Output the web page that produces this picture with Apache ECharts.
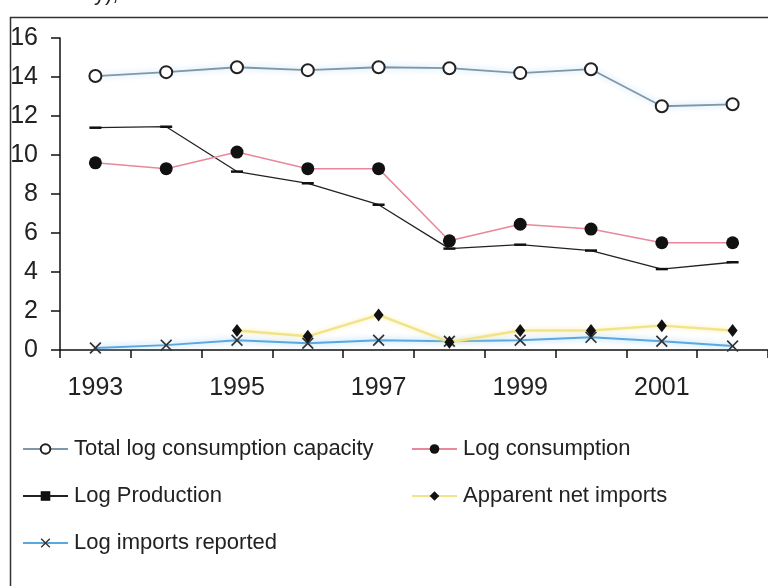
<!DOCTYPE html>
<html><head><meta charset="utf-8">
<script src="https://cdn.jsdelivr.net/npm/echarts@6/dist/echarts.min.js"></script>
<style>html,body{margin:0;padding:0;background:#fff}#c{width:768px;height:586px}</style>
</head><body><div id="c"></div>
<script>
const years = ['1993','1994','1995','1996','1997','1998','1999','2000','2001','2002'];
const totalCapacity = [14.05, 14.25, 14.5, 14.35, 14.5, 14.45, 14.2, 14.4, 12.5, 12.6];
const logConsumption = [9.6, 9.3, 10.15, 9.3, 9.3, 5.6, 6.45, 6.2, 5.5, 5.5];
const logProduction = [11.4, 11.45, 9.15, 8.55, 7.45, 5.2, 5.4, 5.1, 4.15, 4.5];
const netImports = [null, null, 1.0, 0.7, 1.8, 0.4, 1.0, 1.0, 1.25, 1.0];
const importsReported = [0.1, 0.25, 0.5, 0.35, 0.5, 0.45, 0.5, 0.65, 0.45, 0.2];
const yTicks = [0, 2, 4, 6, 8, 10, 12, 14, 16];

const FONT = '"Liberation Sans", Arial, sans-serif';
const xPath = 'path://M0,1L1,0L5,4L9,0L10,1L6,5L10,9L9,10L5,6L1,10L0,9L4,5Z';

const legendText = {fontSize: 22, color: '#222', fontFamily: FONT, lineHeight: 24, padding: [0,0,0,1]};

const chart = echarts.init(document.getElementById('c'), null, {renderer:'canvas'});
chart.setOption({
  animation: false,
  backgroundColor: '#fff',
  textStyle: {fontFamily: FONT},
  grid: {left: 60, top: 38, width: 722, height: 312, containLabel: false},
  graphic: [
    {type:'rect', left: 8, top: 15, shape:{width: 800, height: 620}, style:{fill:'none', stroke:'#333', lineWidth:1.5}, z: 0, silent:true},
    {type:'text', left: 94, top: -17, style:{text:'y),', font:'22px "Liberation Sans", Arial', fill:'#222'}}
  ],
  xAxis: {
    type: 'category', data: years, boundaryGap: true,
    axisLine: {lineStyle: {color: '#111', width: 1.5}},
    axisTick: {show: true, interval: 0, length: 8, lineStyle: {color:'#111', width: 1.5}},
    axisLabel: {interval: 1, fontSize: 25, color: '#222', margin: 26, fontFamily: FONT}
  },
  yAxis: {
    type: 'value', min: 0, max: 16, interval: 2,
    axisLine: {show: true, lineStyle: {color: '#111', width: 1.5}},
    axisTick: {show: true, length: 9, lineStyle: {color:'#111', width: 1.5}},
    splitLine: {show: false},
    axisLabel: {fontSize: 25, color: '#222', margin: 22, fontFamily: FONT,
      customValues: yTicks}
  },
  legend: [
    {left: 17, top: 432, orient: 'vertical', itemGap: 23, itemWidth: 45, itemHeight: 12,
     textStyle: legendText,
     data: ['Total log consumption capacity', 'Log Production', 'Log imports reported']},
    {left: 406, top: 432, orient: 'vertical', itemGap: 23, itemWidth: 45, itemHeight: 12,
     textStyle: legendText,
     data: ['Log consumption', 'Apparent net imports']}
  ],
  series: [
    {name: 'Log imports reported', type: 'line', data: importsReported,
     symbol: xPath, symbolSize: 12,
     itemStyle: {color: '#333'},
     lineStyle: {color: '#5aa8e0', width: 2, shadowColor: 'rgba(120,190,240,0.8)', shadowBlur: 6}},
    {name: 'Apparent net imports', type: 'line', data: netImports,
     symbol: 'diamond', symbolSize: [10, 13],
     itemStyle: {color: '#111'},
     lineStyle: {color: '#f2e38a', width: 2.5, shadowColor: 'rgba(250,235,150,0.8)', shadowBlur: 4}},
    {name: 'Log Production', type: 'line', data: logProduction,
     symbol: 'rect', symbolSize: [12, 2.5],
     itemStyle: {color: '#111'},
     lineStyle: {color: '#222', width: 1.3}},
    {name: 'Log consumption', type: 'line', data: logConsumption,
     symbol: 'circle', symbolSize: 13,
     itemStyle: {color: '#111'},
     lineStyle: {color: '#e8889a', width: 1.5}},
    {name: 'Total log consumption capacity', type: 'line', data: totalCapacity,
     symbol: 'emptyCircle', symbolSize: 12,
     itemStyle: {color: '#222', borderWidth: 1.8},
     lineStyle: {color: '#7f98a8', width: 1.8, shadowColor: 'rgba(150,200,240,0.7)', shadowBlur: 6}}
  ]
});
</script></body></html>
